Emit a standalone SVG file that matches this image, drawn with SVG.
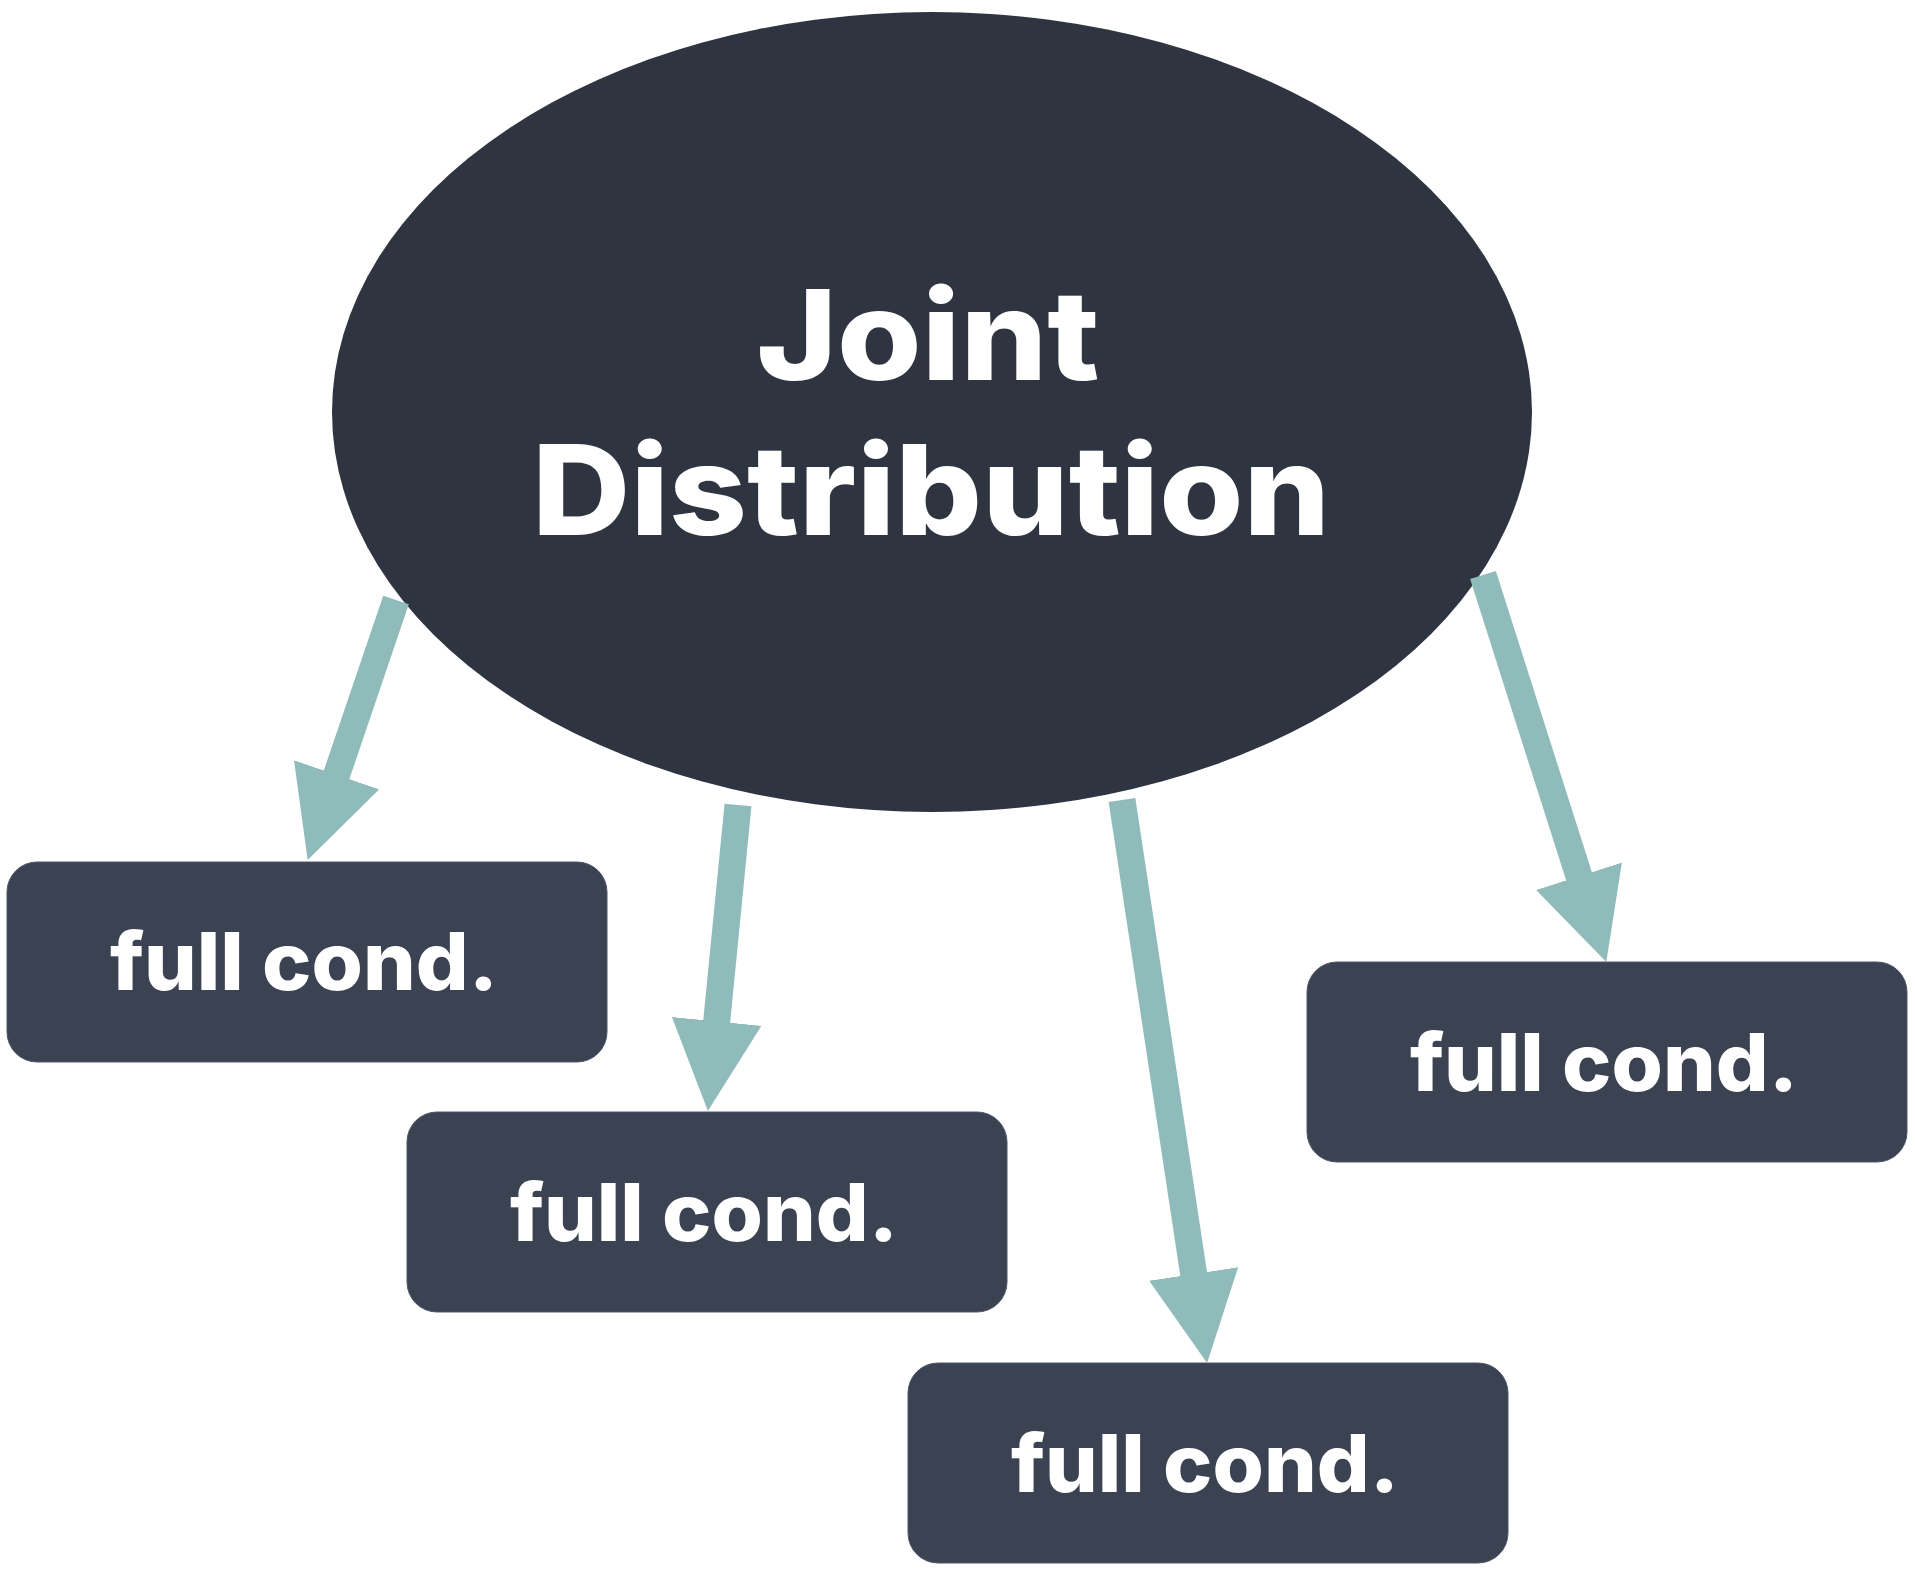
<svg xmlns="http://www.w3.org/2000/svg" width="1915" height="1570" viewBox="0 0 1915 1570">
<defs>
<style>
.box{fill:#3b4252;stroke:#4c566a;stroke-width:1}
.lbl{font-family:Inter,"Noto Sans","Liberation Sans",sans-serif;font-weight:800;fill:#ffffff;text-anchor:middle}
.small{font-size:80px}
.big{font-size:125px}
.conn{stroke:#8fbcbb;stroke-width:27;fill:none;stroke-linecap:butt}
</style>
<marker id="ah" markerUnits="userSpaceOnUse" markerWidth="90" markerHeight="90" refX="1" refY="44" orient="auto" viewBox="0 0 88 88">
<path d="M0,0 L88,44 L0,88 Z" fill="#8fbcbb"/>
</marker>
</defs>
<rect width="1915" height="1570" fill="#ffffff"/>
<g id="joint">
<ellipse cx="932" cy="412" rx="600" ry="400" fill="#2e3440"/>
<text class="lbl big" x="928" y="380" textLength="343" lengthAdjust="spacingAndGlyphs">Joint</text>
<text class="lbl big" x="931" y="535" textLength="798" lengthAdjust="spacingAndGlyphs">Distribution</text>
</g>
<g id="cond1">
<rect class="box" x="7" y="862" width="600" height="200" rx="30"/>
<text class="lbl small" x="304" y="990" textLength="388" lengthAdjust="spacingAndGlyphs">full cond.</text>
</g>
<g id="cond2">
<rect class="box" x="407" y="1112" width="600" height="200" rx="30"/>
<text class="lbl small" x="704" y="1241" textLength="388" lengthAdjust="spacingAndGlyphs">full cond.</text>
</g>
<g id="cond3">
<rect class="box" x="908" y="1363" width="600" height="200" rx="30"/>
<text class="lbl small" x="1205" y="1492" textLength="388" lengthAdjust="spacingAndGlyphs">full cond.</text>
</g>
<g id="cond4">
<rect class="box" x="1307" y="962" width="600" height="200" rx="30"/>
<text class="lbl small" x="1604" y="1091" textLength="388" lengthAdjust="spacingAndGlyphs">full cond.</text>
</g>
<g id="connectors">
<line class="conn" x1="396" y1="600" x2="336.3" y2="775.7" marker-end="url(#ah)"/>
<line class="conn" x1="738" y1="805" x2="716.6" y2="1022.4" marker-end="url(#ah)"/>
<line class="conn" x1="1122" y1="800" x2="1193.8" y2="1275" marker-end="url(#ah)"/>
<line class="conn" x1="1483" y1="575" x2="1579.3" y2="877.2" marker-end="url(#ah)"/>
</g>
</svg>
